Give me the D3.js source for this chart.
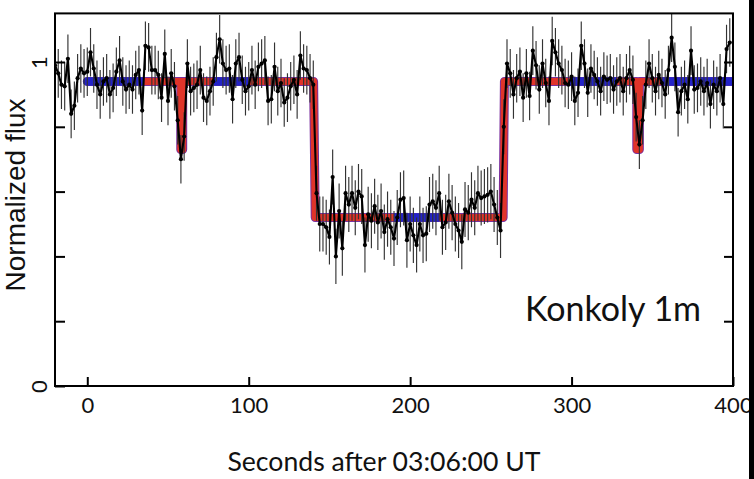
<!DOCTYPE html>
<html>
<head>
<meta charset="utf-8">
<script src="https://cdn.jsdelivr.net/npm/d3@7"></script>
<style>
  html, body { margin: 0; padding: 0; background: #fff; }
  svg { display: block; }
</style>
</head>
<body>
<svg id="chart" width="754" height="479"></svg>
<script>
// ---------- DATA ----------
const times = [-20,-18,-16,-14,-12,-10,-8,-6,-4,-2,0,2,4,6,8,10,12,14,16,18,20,22,24,26,28,30,32,34,36,38,40,42,44,46,48,50,52,54,56,58,60,62,64,66,68,70,72,74,76,78,80,82,84,86,88,90,92,94,96,98,100,102,104,106,108,110,112,114,116,118,120,122,124,126,128,130,132,134,136,138,140,142,144,146,148,150,152,154,156,158,160,162,164,166,168,170,172,174,176,178,180,182,184,186,188,190,192,194,196,198,200,202,204,206,208,210,212,214,216,218,220,222,224,226,228,230,232,234,236,238,240,242,244,246,248,250,252,254,256,258,260,262,264,266,268,270,272,274,276,278,280,282,284,286,288,290,292,294,296,298,300,302,304,306,308,310,312,314,316,318,320,322,324,326,328,330,332,334,336,338,340,342,344,346,348,350,352,354,356,358,360,362,364,366,368,370,372,374,376,378,380,382,384,386,388,390,392,394,396,398];
const flux = [0.99,0.965,0.93,0.925,1.01,0.84,0.865,0.95,0.98,0.965,
  0.97,1.03,0.98,0.93,0.90,0.94,0.95,0.90,0.92,0.97,
  1.005,0.94,0.915,0.93,0.915,0.96,0.975,0.85,1.05,1.045,
  0.975,0.975,0.96,0.89,1.025,0.88,0.965,0.925,0.82,0.70,
  0.77,0.995,0.91,0.92,0.93,0.975,0.89,0.88,0.91,0.94,
  1.015,1.07,0.995,0.975,0.98,0.885,0.995,1.015,0.945,0.91,
  0.925,0.975,0.93,0.985,0.995,1.005,0.88,0.885,0.985,0.91,
  0.935,0.875,0.89,0.925,0.945,0.90,1.02,0.98,0.975,0.95,
  0.93,0.595,0.50,0.50,0.49,0.46,0.645,0.40,0.54,0.425,
  0.595,0.56,0.595,0.55,0.60,0.585,0.435,0.53,0.51,0.555,
  0.505,0.54,0.475,0.515,0.49,0.455,0.52,0.575,0.58,0.45,
  0.50,0.465,0.435,0.50,0.465,0.47,0.56,0.57,0.55,0.595,
  0.49,0.505,0.57,0.535,0.50,0.48,0.445,0.545,0.535,0.575,
  0.55,0.595,0.58,0.585,0.59,0.60,0.56,0.52,0.48,0.80,
  0.995,0.965,0.90,0.95,0.97,0.89,0.965,0.895,1.035,0.99,
  0.915,0.995,0.935,0.88,1.065,1.03,0.995,0.975,0.935,0.93,
  0.955,0.88,0.905,1.05,0.995,0.905,0.98,0.96,0.94,0.91,
  0.955,0.945,0.95,0.915,0.94,0.95,0.91,0.95,0.975,0.945,
  0.83,0.745,0.82,0.93,0.995,0.95,0.91,0.96,0.935,0.90,
  0.975,1.075,0.985,0.845,0.91,0.93,0.885,1.035,0.915,0.92,
  0.94,0.91,0.935,0.87,0.93,0.91,0.95,0.87,1.04,1.06];
const errOutside = 0.075;   // flux uncertainty outside the occultation
const errInside = 0.085;    // flux uncertainty during the occultation
const occultation = [141, 258];

// occultation model (step function)
const modelTimes = [0, 57.9, 57.9, 59.1, 59.1, 140.2, 141.2, 257.6, 258.4, 340.4, 340.4, 342.0, 342.0, 400];
const modelFlux  = [0.94, 0.94, 0.73, 0.73, 0.94, 0.94, 0.52, 0.52, 0.94, 0.94, 0.73, 0.73, 0.94, 0.94];
// model colouring: ranges (seconds) shown in red and in blue
const redRanges  = [[35, 78], [100, 190], [218, 299], [328, 356]];
const blueRanges = [[-20, 35], [78, 100], [190, 218], [299, 328], [356, 402]];

const xTicks = [0, 100, 200, 300, 400];
const yTicks = [0, 0.2, 0.4, 0.6, 0.8, 1];
const yTickLabels = {0: "0", 1: "1"};
const xTitle = "Seconds after 03:06:00 UT";
const yTitle = "Normalized flux";
const stationLabel = "Konkoly 1m";

// ---------- CHART ----------
const svg = d3.select("#chart");
const L = 55, R = 733, T = 13.4, B = 386;
const x = d3.scaleLinear().domain([-20, 400]).range([L, R]);
const y = d3.scaleLinear().domain([0, 1.15]).range([B, T]);

const defs = svg.append("defs");
defs.append("clipPath").attr("id", "plotclip")
  .append("rect").attr("x", L).attr("y", T).attr("width", R - L).attr("height", B - T);
function rangeClip(id, ranges) {
  const cp = defs.append("clipPath").attr("id", id);
  cp.selectAll("rect").data(ranges).join("rect")
    .attr("x", d => x(d[0])).attr("width", d => x(d[1]) - x(d[0]))
    .attr("y", 0).attr("height", 479);
}
rangeClip("redclip", redRanges);
rangeClip("blueclip", blueRanges);

const plot = svg.append("g").attr("clip-path", "url(#plotclip)");

const model = modelTimes.map((t, i) => [t, modelFlux[i]]);
const modelLine = d3.line().x(d => x(d[0])).y(d => y(d[1]));

// underlying purple-ish fringe
plot.append("path").datum(model).attr("d", modelLine)
  .attr("fill", "none").attr("stroke", "#7a2f9e").attr("stroke-width", 9)
  .attr("stroke-linejoin", "round").attr("stroke-linecap", "round");
plot.append("g").attr("clip-path", "url(#redclip)")
  .append("path").datum(model).attr("d", modelLine)
  .attr("fill", "none").attr("stroke", "#e0342a").attr("stroke-width", 7)
  .attr("stroke-linejoin", "round").attr("stroke-linecap", "round");
plot.append("g").attr("clip-path", "url(#blueclip)")
  .append("path").datum(model).attr("d", modelLine)
  .attr("fill", "none").attr("stroke", "#2323c8").attr("stroke-width", 8.5)
  .attr("stroke-linejoin", "round").attr("stroke-linecap", "round");

const pts = times.map((t, i) => ({
  t, f: flux[i],
  e: (t >= occultation[0] && t <= occultation[1]) ? errInside : errOutside
}));

// error bars
plot.append("g").selectAll("line").data(pts).join("line")
  .attr("x1", d => x(d.t)).attr("x2", d => x(d.t))
  .attr("y1", d => y(d.f - d.e)).attr("y2", d => y(d.f + d.e))
  .attr("stroke", "#333").attr("stroke-width", 1.15);

// data line
plot.append("path").datum(pts)
  .attr("d", d3.line().x(d => x(d.t)).y(d => y(d.f)))
  .attr("fill", "none").attr("stroke", "#000").attr("stroke-width", 2.1)
  .attr("stroke-linejoin", "round");
plot.append("g").selectAll("circle").data(pts).join("circle")
  .attr("cx", d => x(d.t)).attr("cy", d => y(d.f)).attr("r", 2.1).attr("fill", "#000");

// frame
svg.append("rect").attr("x", L).attr("y", T).attr("width", R - L).attr("height", B - T)
  .attr("fill", "none").attr("stroke", "#000").attr("stroke-width", 2);

// axes (ticks inward)
const xAxis = svg.append("g").attr("transform", `translate(0,${B})`)
  .call(d3.axisBottom(x).tickValues(xTicks).tickSize(-9).tickPadding(11).tickFormat(d3.format("d")));
xAxis.select(".domain").remove();
xAxis.selectAll("line").attr("stroke-width", 2);
xAxis.selectAll("text").attr("font-family", "Lato, 'Open Sans', sans-serif").attr("font-size", 22).attr("fill", "#111");

const yAxis = svg.append("g").attr("transform", `translate(${L},0)`)
  .call(d3.axisLeft(y).tickValues(yTicks).tickSize(-10).tickFormat(d => yTickLabels[d] || ""));
yAxis.select(".domain").remove();
yAxis.selectAll("line").attr("stroke-width", 2);
yAxis.selectAll("text")
  .attr("x", null).attr("dy", null).attr("y", null)
  .attr("transform", "translate(-8,0) rotate(-90)")
  .attr("text-anchor", "middle")
  .attr("font-family", "Lato, 'Open Sans', sans-serif").attr("font-size", 22).attr("fill", "#111");

const yAxisR = svg.append("g").attr("transform", `translate(${R},0)`)
  .call(d3.axisRight(y).tickValues(yTicks.filter(v => v > 0)).tickSize(-9).tickFormat(""));
yAxisR.select(".domain").remove();
yAxisR.selectAll("line").attr("stroke-width", 2);

// titles
svg.append("text").attr("x", 384).attr("y", 471).attr("text-anchor", "middle")
  .attr("font-family", "Lato, 'Open Sans', sans-serif").attr("font-size", 26.6).attr("fill", "#111")
  .text(xTitle);
svg.append("text").attr("transform", "translate(25,195) rotate(-90)").attr("text-anchor", "middle")
  .attr("font-family", "'Liberation Sans', Arial, sans-serif").attr("font-size", 28).attr("fill", "#111")
  .text(yTitle);
svg.append("text").attr("x", 613).attr("y", 321).attr("text-anchor", "middle")
  .attr("font-family", "Lato, 'Open Sans', sans-serif").attr("font-size", 34).attr("fill", "#111")
  .text(stationLabel);

// dark edge strip at right of the picture
svg.append("rect").attr("x", 749).attr("y", 0).attr("width", 5).attr("height", 479).attr("fill", "#000");
</script>
</body>
</html>
